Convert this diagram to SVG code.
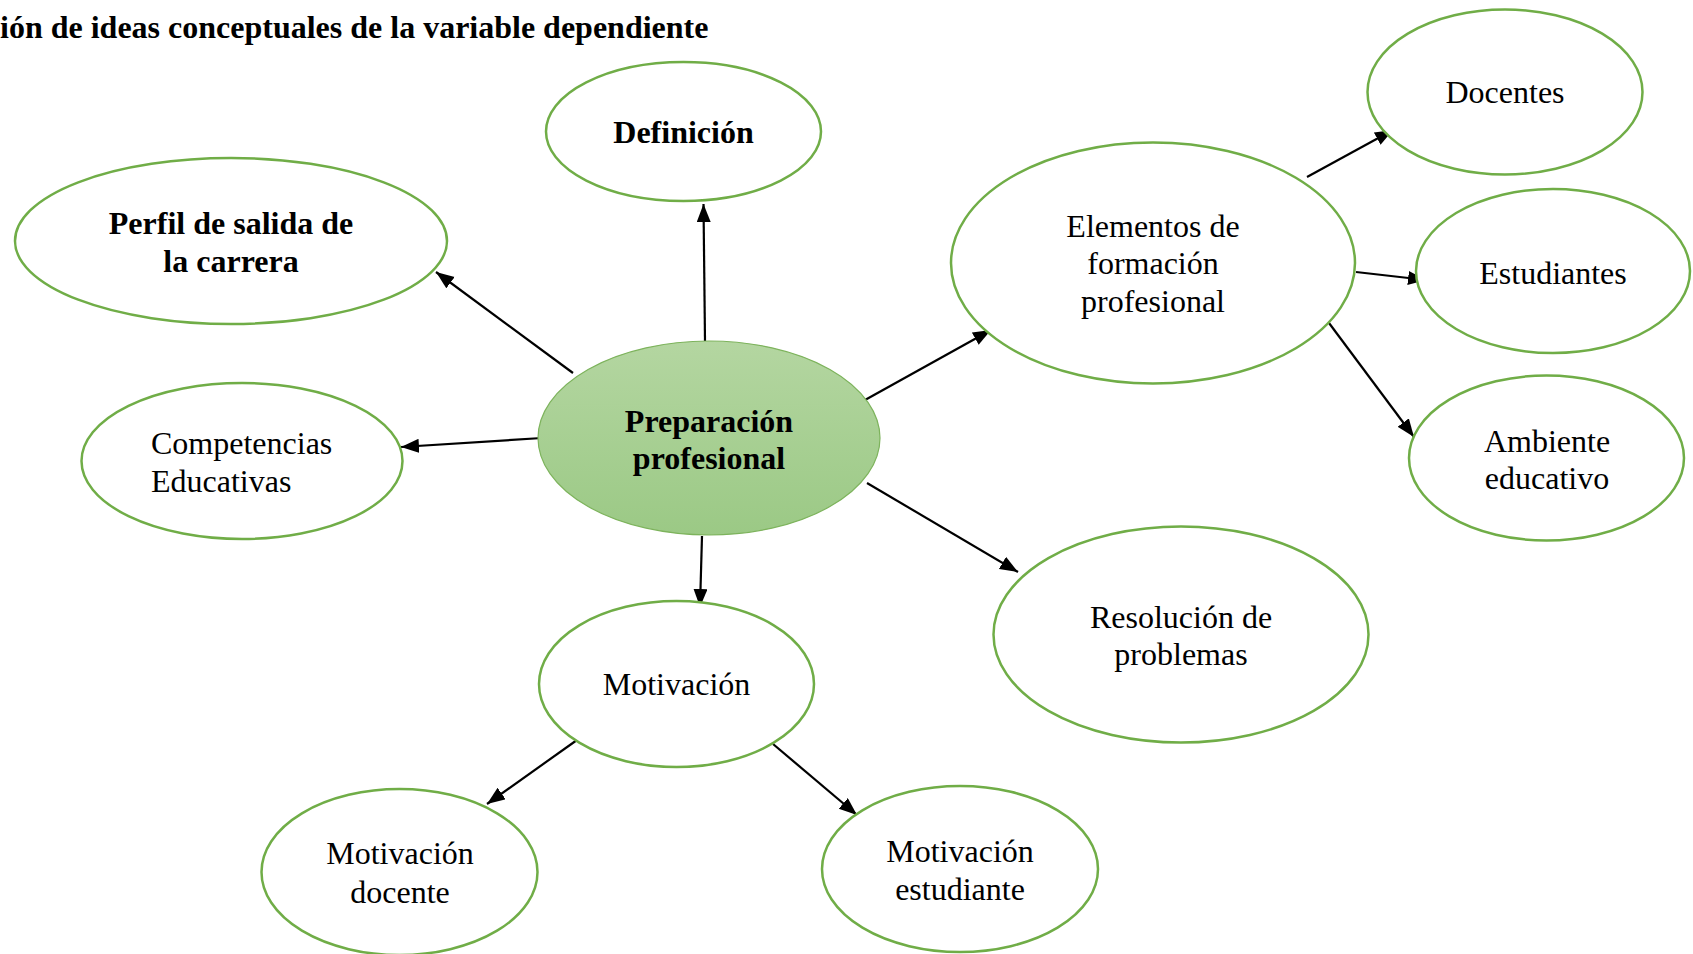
<svg xmlns="http://www.w3.org/2000/svg" width="1693" height="954" viewBox="0 0 1693 954">
<style>
.n{fill:#ffffff;stroke:#70AD47;stroke-width:2.5}
.c{fill:url(#g);stroke:#7DB35C;stroke-width:1.2}
text{font-family:"Liberation Serif","Times New Roman",serif;font-size:32px;fill:#000}
.m{text-anchor:middle}
.b{font-weight:bold}
.e{stroke:#000;stroke-width:2.2;fill:none;marker-end:url(#a)}
</style>
<defs>
<linearGradient id="g" x1="0" y1="0" x2="0" y2="1">
<stop offset="0" stop-color="#B4D6A1"/>
<stop offset="1" stop-color="#9BC985"/>
</linearGradient>
<marker id="a" markerUnits="userSpaceOnUse" markerWidth="20" markerHeight="15" refX="18" refY="7" orient="auto">
<path d="M0,0 L18,7 L0,14 Z" fill="#000"/>
</marker>
</defs>
<rect width="1693" height="954" fill="#ffffff"/>
<text class="b" x="0" y="38">ión de ideas conceptuales de la variable dependiente</text>
<g id="connectors">
<line class="e" x1="705" y1="341" x2="703.5" y2="204"/>
<line class="e" x1="573" y1="373" x2="436" y2="272"/>
<line class="e" x1="542" y1="438" x2="401" y2="447"/>
<line class="e" x1="702" y1="536" x2="700" y2="607"/>
<line class="e" x1="865" y1="400" x2="991" y2="330"/>
<line class="e" x1="867" y1="483" x2="1018" y2="572"/>
<line class="e" x1="1307" y1="177" x2="1393" y2="130"/>
<line class="e" x1="1356" y1="272" x2="1426" y2="280"/>
<line class="e" x1="1329" y1="323" x2="1414" y2="437"/>
<line class="e" x1="577" y1="740" x2="487" y2="804"/>
<line class="e" x1="773" y1="744" x2="857" y2="815"/>
</g>
<g id="preparacion">
<ellipse class="c" cx="709" cy="438" rx="171" ry="97"/>
<text class="m b" x="709" y="432">Preparación</text>
<text class="m b" x="709" y="469">profesional</text>
</g>
<g id="definicion">
<ellipse class="n" cx="683.5" cy="131.5" rx="137.5" ry="69.5"/>
<text class="m b" x="683.5" y="143">Definición</text>
</g>
<g id="perfil">
<ellipse class="n" cx="231" cy="241" rx="216" ry="83"/>
<text class="m b" x="231" y="234">Perfil de salida de</text>
<text class="m b" x="231" y="272">la carrera</text>
</g>
<g id="competencias">
<ellipse class="n" cx="242" cy="461" rx="160.5" ry="78"/>
<text x="151" y="454">Competencias</text>
<text x="151" y="492">Educativas</text>
</g>
<g id="elementos">
<ellipse class="n" cx="1153" cy="263" rx="202" ry="120.5"/>
<text class="m" x="1153" y="237">Elementos de</text>
<text class="m" x="1153" y="274">formación</text>
<text class="m" x="1153" y="312">profesional</text>
</g>
<g id="docentes">
<ellipse class="n" cx="1505" cy="92" rx="137.5" ry="82.5"/>
<text class="m" x="1505" y="103">Docentes</text>
</g>
<g id="estudiantes">
<ellipse class="n" cx="1553" cy="271" rx="137" ry="82"/>
<text class="m" x="1553" y="284">Estudiantes</text>
</g>
<g id="ambiente">
<ellipse class="n" cx="1546.5" cy="458" rx="137.5" ry="82.5"/>
<text class="m" x="1547" y="452">Ambiente</text>
<text class="m" x="1547" y="489">educativo</text>
</g>
<g id="resolucion">
<ellipse class="n" cx="1181" cy="634.5" rx="187.5" ry="108"/>
<text class="m" x="1181" y="628">Resolución de</text>
<text class="m" x="1181" y="665">problemas</text>
</g>
<g id="motivacion">
<ellipse class="n" cx="676.5" cy="684" rx="137.5" ry="83"/>
<text class="m" x="676.5" y="695">Motivación</text>
</g>
<g id="motivacion-docente">
<ellipse class="n" cx="399.5" cy="872" rx="138" ry="83"/>
<text class="m" x="400" y="864">Motivación</text>
<text class="m" x="400" y="903">docente</text>
</g>
<g id="motivacion-estudiante">
<ellipse class="n" cx="960" cy="869" rx="138" ry="83"/>
<text class="m" x="960" y="862">Motivación</text>
<text class="m" x="960" y="900">estudiante</text>
</g>
</svg>
